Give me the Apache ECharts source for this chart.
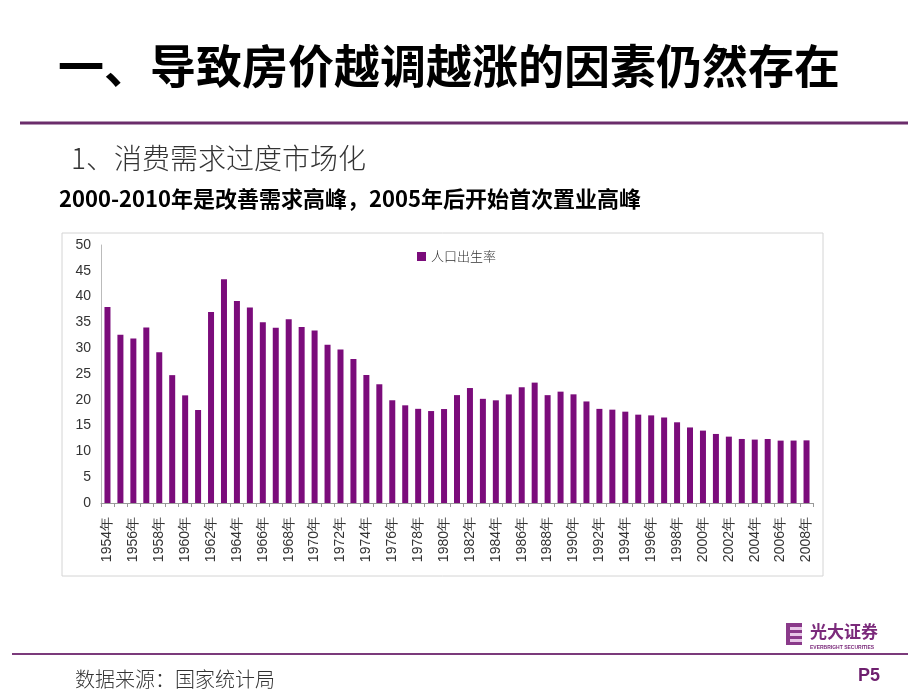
<!DOCTYPE html>
<html>
<head>
<meta charset="utf-8">
<script src="https://cdn.jsdelivr.net/npm/echarts@6/dist/echarts.min.js"></script>
<style>
html,body{margin:0;padding:0;background:#fff;}
#c{width:920px;height:690px;}
</style>
</head>
<body>
<div id="c"></div>
<script>
const years = [1954,1955,1956,1957,1958,1959,1960,1961,1962,1963,1964,1965,1966,1967,1968,1969,1970,1971,1972,1973,1974,1975,1976,1977,1978,1979,1980,1981,1982,1983,1984,1985,1986,1987,1988,1989,1990,1991,1992,1993,1994,1995,1996,1997,1998,1999,2000,2001,2002,2003,2004,2005,2006,2007,2008];
const categories = years.map(y => y + '年');
const birthRate = [37.97,32.60,31.90,34.03,29.22,24.78,20.86,18.02,37.01,43.37,39.14,37.88,35.05,33.96,35.59,34.11,33.43,30.65,29.77,27.93,24.82,23.01,19.91,18.93,18.25,17.82,18.21,20.91,22.28,20.19,19.90,21.04,22.43,23.33,20.90,21.58,21.06,19.68,18.24,18.09,17.70,17.12,16.98,16.57,15.64,14.64,14.03,13.38,12.86,12.41,12.29,12.40,12.09,12.10,12.14];
const seriesName = '人口出生率';
const yTicks = {min: 0, max: 50, interval: 5};

const chart = echarts.init(document.getElementById('c'), null, {renderer: 'canvas'});
const purple = '#7B0C7B';
chart.setOption({
  backgroundColor: '#fff',
  animation: false,
  title: [
    {text: '一、导致房价越调越涨的因素仍然存在', left: 53, top: 38,
     textStyle: {fontFamily: 'Noto Sans CJK SC', fontSize: 46, fontWeight: 'bold', color: '#000'}},
    {text: '1、消费需求过度市场化', left: 66, top: 139,
     textStyle: {fontFamily: 'Noto Sans CJK SC', fontSize: 28, fontWeight: 300, color: '#333'}},
    {text: '2000-2010年是改善需求高峰，2005年后开始首次置业高峰', left: 54, top: 183,
     textStyle: {fontFamily: 'Noto Sans CJK SC', fontSize: 22, fontWeight: 'bold', color: '#000'}},
    {text: '数据来源：国家统计局', left: 70, top: 664,
     textStyle: {fontFamily: 'Noto Sans CJK SC', fontSize: 20, fontWeight: 300, color: '#333'}},
    {text: 'P5', left: 853, top: 662,
     textStyle: {fontFamily: 'Arial', fontSize: 18, fontWeight: 'bold', color: '#6E1F6E'}}
  ],
  graphic: [
    {type: 'line', shape: {x1: 20, y1: 123, x2: 908, y2: 123}, style: {stroke: '#6B2D6B', lineWidth: 3}},
    {type: 'line', shape: {x1: 12, y1: 654, x2: 908, y2: 654}, style: {stroke: '#7B3A7B', lineWidth: 2}},
    {type: 'rect', shape: {x: 62, y: 233, width: 761, height: 343}, style: {fill: 'none', stroke: '#d4d4d4', lineWidth: 1}, z: -1},
    {type: 'rect', shape: {x: 786, y: 623, width: 16, height: 22}, style: {fill: '#8A3A8A'}},
    {type: 'rect', shape: {x: 790, y: 627, width: 12, height: 3}, style: {fill: '#E8C8E8'}},
    {type: 'rect', shape: {x: 790, y: 633, width: 12, height: 3}, style: {fill: '#E8C8E8'}},
    {type: 'rect', shape: {x: 790, y: 639, width: 12, height: 3}, style: {fill: '#E8C8E8'}},
    {type: 'text', left: 810, top: 623, style: {text: '光大证券', fill: '#7B2A7B', font: 'bold 17px "Noto Sans CJK SC"', letterSpacing: 4}},
    {type: 'text', left: 810, top: 645, style: {text: 'EVERBRIGHT SECURITIES', fill: '#7B2A7B', font: 'bold 5px Arial'}}
  ],
  legend: {
    data: [seriesName], left: 412, top: 245, itemWidth: 9, itemHeight: 9, itemGap: 4,
    icon: 'rect',
    textStyle: {fontFamily: 'Noto Sans CJK SC', fontSize: 13, color: '#333', fontWeight: 300}
  },
  grid: {left: 101, right: 107, top: 245, bottom: 187, containLabel: false},
  xAxis: {
    type: 'category', data: categories, boundaryGap: true,
    axisLine: {lineStyle: {color: '#999'}},
    axisTick: {show: true, interval: 0, length: 4, lineStyle: {color: '#999'}},
    axisLabel: {interval: 1, rotate: 90, fontFamily: 'Arial', fontSize: 14, color: '#333', margin: 14}
  },
  yAxis: {
    type: 'value', min: yTicks.min, max: yTicks.max, interval: yTicks.interval,
    axisLine: {show: true, lineStyle: {color: '#bbb'}},
    axisTick: {show: false},
    splitLine: {show: false},
    axisLabel: {fontFamily: 'Arial', fontSize: 14, color: '#333', margin: 10}
  },
  series: [{
    name: seriesName, type: 'bar', data: birthRate, barWidth: 6,
    itemStyle: {color: purple}
  }]
});
</script>
</body>
</html>
